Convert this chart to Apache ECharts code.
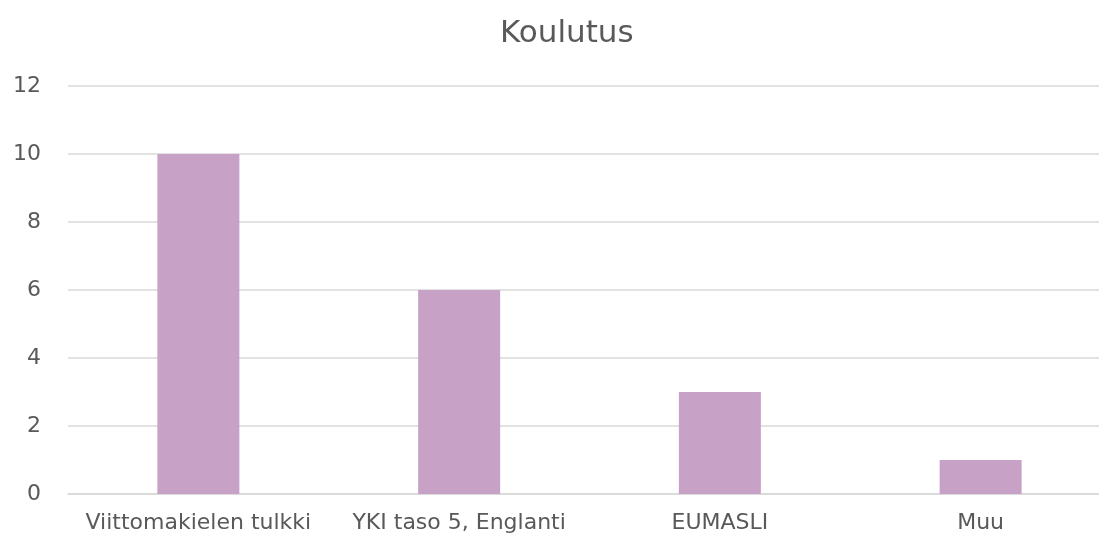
<!DOCTYPE html>
<html>
<head>
<meta charset="utf-8">
<script src="https://cdn.jsdelivr.net/npm/echarts@6/dist/echarts.min.js"></script>
<style>
  html, body { margin: 0; padding: 0; background: #fff; }
  #chart { width: 1099px; height: 536px; }
</style>
</head>
<body>
<div id="chart"></div>
<script>
// data
const categories = ['Viittomakielen tulkki', 'YKI taso 5, Englanti', 'EUMASLI', 'Muu'];
const values = [10, 6, 3, 1];
const yTicks = [0, 2, 4, 6, 8, 10, 12];

const chart = echarts.init(document.getElementById('chart'));
const textColor = '#595959';
const font = 'DejaVu Sans';

const optionData = {
  animation: false,
  title: {
    text: 'Koulutus',
    left: 495,
    top: 13,
    textStyle: {
      fontFamily: font,
      fontSize: 31,
      fontWeight: 'normal',
      color: textColor
    }
  },
  grid: {
    left: 68,
    top: 86,
    width: 1043,
    height: 408,
    outerBoundsMode: 'none'
  },
  xAxis: {
    type: 'category',
    data: categories,
    axisTick: { show: false },
    axisLine: { lineStyle: { color: '#d9d9d9', width: 1.5 } },
    axisLabel: {
      interval: 0,
      color: textColor,
      fontFamily: font,
      fontSize: 22,
      margin: 18
    }
  },
  yAxis: {
    type: 'value',
    min: yTicks[0],
    max: yTicks[yTicks.length - 1],
    interval: 2,
    axisLine: { show: false },
    axisTick: { show: false },
    splitLine: { lineStyle: { color: '#d9d9d9', width: 1.5 } },
    axisLabel: {
      color: textColor,
      fontFamily: font,
      fontSize: 22,
      margin: 27
    }
  },
  series: [{
    name: 'Koulutus',
    type: 'bar',
    data: values,
    barWidth: 82,
    itemStyle: { color: '#c8a2c6' }
  }]
};

chart.setOption(optionData);
</script>
</body>
</html>
